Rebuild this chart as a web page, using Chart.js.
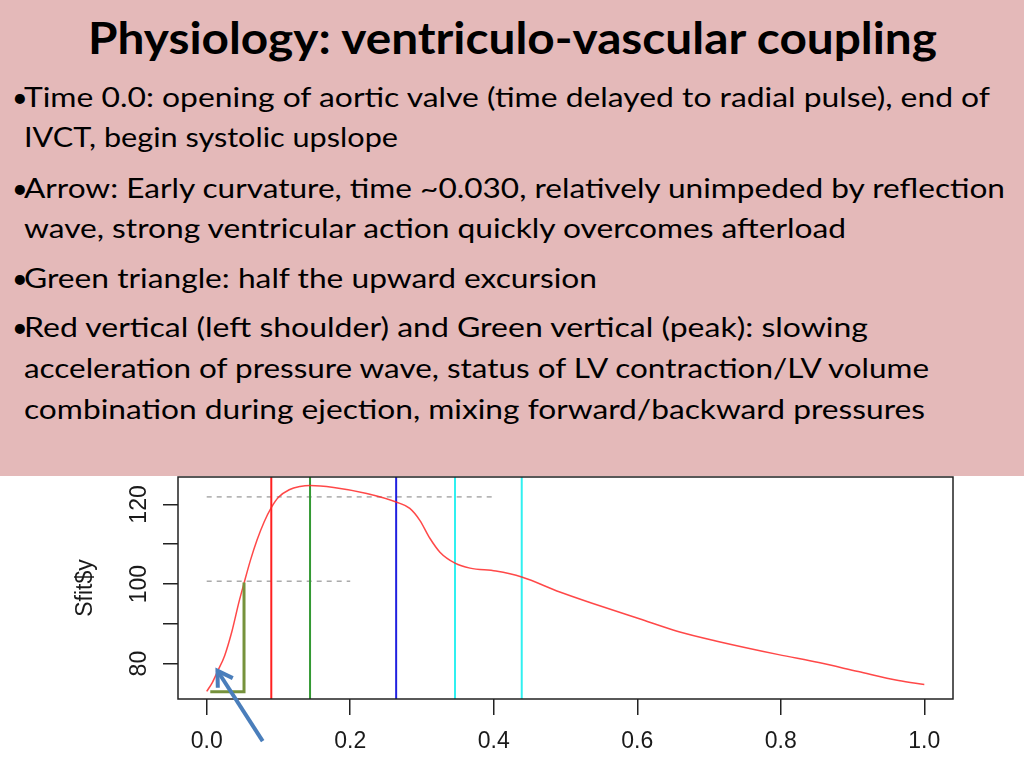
<!DOCTYPE html>
<html>
<head>
<meta charset="utf-8">
<script src="https://cdn.jsdelivr.net/npm/chart.js@4.4.1/dist/chart.umd.min.js"></script>
<style>
html, body { margin: 0; padding: 0; background: #fff; }
#page { position: relative; width: 1024px; height: 768px; overflow: hidden; background: #fff; }
#header { position: absolute; left: 0; top: 0; width: 1024px; height: 476px; background: #e4b9b9; }
.ln { position: absolute; left: 24px; white-space: nowrap; font-family: Lato, "Open Sans", sans-serif;
      font-size: 27px; line-height: 1; color: #000; transform-origin: 0 0; }
.ttl { left: 88px; font-size: 43px; font-weight: bold; }
.bul { left: 12px; }
#wrap { position: absolute; left: 0; top: 476px; width: 1024px; height: 292px; }
</style>
</head>
<body>
<div id="page">
  <div id="header">
    <div class="ln ttl" data-w="849" data-b="54">Physiology: ventriculo-vascular coupling</div>
    <div class="ln bul" data-b="107">•</div>
    <div class="ln" data-w="966" data-b="107">Time 0.0: opening of aortic valve (time delayed to radial pulse), end of</div>
    <div class="ln" data-w="374" data-b="147">IVCT, begin systolic upslope</div>
    <div class="ln bul" data-b="198">•</div>
    <div class="ln" data-w="981" data-b="198">Arrow: Early curvature, time ~0.030, relatively unimpeded by reflection</div>
    <div class="ln" data-w="822" data-b="238">wave, strong ventricular action quickly overcomes afterload</div>
    <div class="ln bul" data-b="288">•</div>
    <div class="ln" data-w="573" data-b="288">Green triangle: half the upward excursion</div>
    <div class="ln bul" data-b="337">•</div>
    <div class="ln" data-w="844" data-b="337">Red vertical (left shoulder) and Green vertical (peak): slowing</div>
    <div class="ln" data-w="905" data-b="378">acceleration of pressure wave, status of LV contraction/LV volume</div>
    <div class="ln" data-w="901" data-b="419">combination during ejection, mixing forward/backward pressures</div>
  </div>
  <div id="wrap"><canvas id="chart"></canvas></div>
</div>
<script>
// pressure curve (time, Sfit$y)
const curveT = [0, 0.008, 0.015, 0.025, 0.035, 0.045, 0.052, 0.061, 0.07, 0.08, 0.09, 0.1, 0.115,
                0.13, 0.144, 0.177, 0.223, 0.264, 0.283, 0.297, 0.311, 0.325, 0.346, 0.367,
                0.403, 0.439, 0.492, 0.536, 0.603, 0.658, 0.714, 0.797, 0.853, 0.908, 0.964, 1.0];
const curveY = [73, 75.3, 78, 82, 88, 95.5, 100.2, 106, 111, 115.6, 119.2, 121.8, 123.7,
                124.5, 124.75, 124.25, 122.75, 120.6, 119, 116, 111.5, 108, 105.25, 104,
                103.25, 101.75, 98, 95.25, 91.25, 88, 85.5, 82.25, 80.25, 78, 75.75, 74.75];

const xTicks = [0, 0.2, 0.4, 0.6, 0.8, 1.0];
const yTicks = [80, 90, 100, 110, 120];
const yLabelled = [80, 100, 120];
const xRange = [-0.04, 1.04];
const yRange = [71.1, 126.9];

// vertical markers
const markT = [0.090, 0.144, 0.264, 0.346, 0.439];
const markColors = ['#ff2020', '#339933', '#2020e0', '#30f0f0', '#30f0f0'];

// grey dashed levels
const dashY = [121.9, 100.7];
const dashEnd = [0.4, 0.2];

// green triangle
const triT = [0.005, 0.052, 0.052];
const triY = [72.9, 72.9, 100.4];

// blue arrow (tail, tip)
const arrowFrom = [0.078, 60.5];
const arrowTo = [0.015, 78.2];

const datasets = [];
datasets.push({
  data: curveT.map((t, i) => ({x: t, y: curveY[i]})),
  borderColor: 'rgba(255,40,40,0.85)', borderWidth: 1.5,
  cubicInterpolationMode: 'monotone', pointRadius: 0, order: 1
});
markT.forEach((t, i) => {
  datasets.push({
    data: [{x: t, y: yRange[0]}, {x: t, y: yRange[1]}],
    borderColor: markColors[i], borderWidth: 2, pointRadius: 0, order: 2
  });
});
dashY.forEach((v, i) => {
  datasets.push({
    data: [{x: 0, y: v}, {x: dashEnd[i], y: v}],
    borderColor: '#aaaaaa', borderWidth: 1.5, borderDash: [5, 5], pointRadius: 0, order: 3
  });
});
datasets.push({
  data: triT.map((t, i) => ({x: t, y: triY[i]})),
  borderColor: '#76923c', borderWidth: 3, pointRadius: 0, order: 0
});

const frame = {
  id: 'frame',
  afterDraw(chart) {
    const {ctx, chartArea: a, scales: {x, y}} = chart;
    ctx.save();
    ctx.strokeStyle = '#222';
    ctx.lineWidth = 1.5;
    ctx.strokeRect(a.left, a.top, a.right - a.left, a.bottom - a.top);

    const x0 = x.getPixelForValue(arrowFrom[0]), y0 = y.getPixelForValue(arrowFrom[1]);
    const x1 = x.getPixelForValue(arrowTo[0]), y1 = y.getPixelForValue(arrowTo[1]);
    const ang = Math.atan2(y0 - y1, x0 - x1);
    ctx.strokeStyle = '#4a7ebb';
    ctx.lineWidth = 4;
    ctx.lineJoin = 'miter';
    ctx.beginPath();
    ctx.moveTo(x0, y0);
    ctx.lineTo(x1, y1);
    ctx.stroke();
    ctx.beginPath();
    ctx.moveTo(x1 + 17 * Math.cos(ang + 0.55), y1 + 17 * Math.sin(ang + 0.55));
    ctx.lineTo(x1, y1);
    ctx.lineTo(x1 + 17 * Math.cos(ang - 0.55), y1 + 17 * Math.sin(ang - 0.55));
    ctx.stroke();
    ctx.restore();
  }
};

const tickFont = {family: '"Liberation Sans", Arial, sans-serif', size: 23};

// keep the plot box where the R figure has it
function noEdgePad(s) {
  s.paddingTop = 0; s.paddingBottom = 0; s.paddingLeft = 0; s.paddingRight = 0;
}

new Chart(document.getElementById('chart'), {
  type: 'line',
  data: {datasets: datasets},
  plugins: [frame],
  options: {
    responsive: true,
    maintainAspectRatio: false,
    animation: false,
    layout: {padding: {left: 0, right: 71, top: 1, bottom: 0}},
    plugins: {legend: {display: false}, tooltip: {enabled: false}},
    scales: {
      x: {
        type: 'linear', min: xRange[0], max: xRange[1],
        afterBuildTicks: s => { s.ticks = xTicks.map(v => ({value: v})); },
        afterFit: s => { s.height = 69; noEdgePad(s); },
        ticks: {callback: v => v.toFixed(1), font: tickFont, color: '#1a1a1a', padding: 13,
                maxRotation: 0, autoSkip: false},
        grid: {drawOnChartArea: false, drawTicks: true, tickLength: 16, color: '#222', lineWidth: 1.5},
        border: {display: false}
      },
      y: {
        type: 'linear', min: yRange[0], max: yRange[1],
        afterBuildTicks: s => { s.ticks = yTicks.map(v => ({value: v})); },
        afterFit: s => { s.width = 178; noEdgePad(s); },
        ticks: {callback: v => yLabelled.includes(v) ? String(v) : '', font: tickFont, color: '#1a1a1a',
                minRotation: 90, maxRotation: 90, crossAlign: 'center', padding: 4, autoSkip: false},
        grid: {drawOnChartArea: false, drawTicks: true, tickLength: 15, color: '#222', lineWidth: 1.5},
        border: {display: false},
        title: {display: true, text: 'Sfit$y', font: tickFont, color: '#1a1a1a', padding: {top: 72, bottom: 0}}
      }
    }
  }
});

// place header lines by baseline and stretch them to the widths seen on the slide
function fitLines() {
  document.querySelectorAll('.ln').forEach(el => {
    const fs = parseFloat(getComputedStyle(el).fontSize);
    el.style.top = (parseFloat(el.dataset.b) - 0.887 * fs) + 'px';
    if (el.dataset.w) {
      el.style.transform = 'none';
      const w = el.getBoundingClientRect().width;
      el.style.transform = 'scaleX(' + (parseFloat(el.dataset.w) / w) + ')';
    }
  });
}
fitLines();
if (document.fonts) document.fonts.ready.then(fitLines);
</script>
</body>
</html>
